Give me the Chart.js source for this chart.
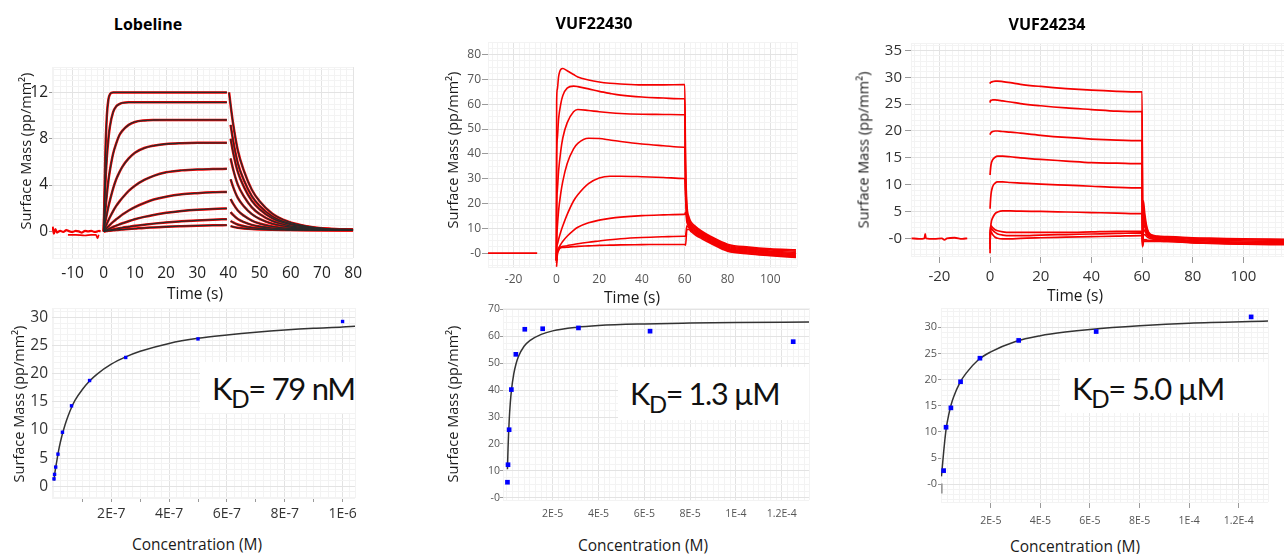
<!DOCTYPE html>
<html>
<head>
<meta charset="utf-8">
<script src="https://cdn.jsdelivr.net/npm/chart.js@4.4.1/dist/chart.umd.min.js"></script>
<style>
  body { margin: 0; background: #fff; font-family: "Open Sans", sans-serif; }
  #page { position: relative; width: 1284px; height: 554px; overflow: hidden; background: #fff; }
  canvas { position: absolute; }
  .lbl { position: absolute; white-space: nowrap; transform: translate(-50%, -50%); color: #1a1a1a; }
  .ttl { font-weight: 700; font-size: 16px; color: #000; }
  .ytl { transform: translate(-50%, -50%) rotate(-90deg); font-size: 14.5px; }
  .xtl { font-size: 15.5px; }
  .kdbox { position: absolute; background: #fff; }
  .kdt { position: absolute; white-space: nowrap; line-height: 1; color: #111; font-family: Lato, sans-serif; letter-spacing: -1.3px; }
  .kdt span { font-size: 0.78em; vertical-align: -8px; }
</style>
</head>
<body>
<div id="page">
  <canvas id="c1"></canvas>
  <canvas id="c2"></canvas>
  <canvas id="c3"></canvas>
  <canvas id="c4"></canvas>
  <canvas id="c5"></canvas>
  <canvas id="c6"></canvas>

  <div class="lbl ttl" style="left:148px; top:24px;">Lobeline</div>
  <div class="lbl ttl" style="left:594px; top:23px;">VUF22430</div>
  <div class="lbl ttl" style="left:1047px; top:24px;">VUF24234</div>

  <div class="lbl ytl" style="left:25px; top:151px;">Surface Mass (pp/mm²)</div>
  <div class="lbl ytl" style="left:452px; top:150px;">Surface Mass (pp/mm²)</div>
  <div class="lbl ytl" style="left:863px; top:150px;">Surface Mass (pp/mm²)</div>
  <div class="lbl ytl" style="left:18px; top:404px;">Surface Mass (pp/mm²)</div>
  <div class="lbl ytl" style="left:452px; top:404px;">Surface Mass (pp/mm²)</div>

  <div class="lbl xtl" style="left:195px; top:293px;">Time (s)</div>
  <div class="lbl xtl" style="left:632px; top:297px;">Time (s)</div>
  <div class="lbl xtl" style="left:1075px; top:295px;">Time (s)</div>
  <div class="lbl xtl" style="left:197px; top:544px;">Concentration (M)</div>
  <div class="lbl xtl" style="left:643px; top:545px;">Concentration (M)</div>
  <div class="lbl xtl" style="left:1075px; top:546px;">Concentration (M)</div>

  <div class="kdbox" style="left:200px; top:362px; width:155px; height:51px;"></div>
  <div class="kdt" style="left:212px; top:373px; font-size:31px;">K<span>D</span>= 79 nM</div>
  <div class="kdbox" style="left:618px; top:367px; width:191px; height:53px;"></div>
  <div class="kdt" style="left:630px; top:378px; font-size:30.5px;">K<span>D</span>= 1.3 µM</div>
  <div class="kdbox" style="left:1060px; top:362px; width:208px; height:51px;"></div>
  <div class="kdt" style="left:1072px; top:373px; font-size:31px;">K<span>D</span>= 5.0 µM</div>
</div>

<script>
// ---------- Lobeline sensorgram (time s, surface mass pp/mm2) ----------
const lobBaseT = [-16.4, -16, -15.5, -15, -14, -13, -12, -11, -10, -9, -8, -7, -6, -5, -4, -3, -2, -1.5, -1];
const lobBaseV = [0.4, -0.2, 0.2, -0.1, 0.05, -0.05, 0.1, 0, -0.05, 0.05, 0, -0.1, 0.05, 0, 0.05, -0.05, 0, 0.05, 0];
const lobBase2T = [-11.5, -9, -6, -4, -2.5, -2, -1.6];
const lobBase2V = [-0.3, -0.3, -0.35, -0.3, -0.3, -0.6, -0.3];
const lobAssocT = [0, 0.5, 1, 1.5, 2, 3, 4, 5, 6, 8, 10, 13, 16, 20, 25, 30, 35, 39.5];
const lobAssoc = [
  [0, 6.5, 10.0, 11.4, 11.85, 12.0, 12.0, 12.0, 12.0, 12.0, 12.0, 12.0, 12.0, 12.0, 12.0, 12.0, 12.0, 12.0],
  [0, 3.9, 6.4, 8.0, 9.1, 10.3, 10.8, 11.0, 11.1, 11.15, 11.15, 11.15, 11.15, 11.15, 11.15, 11.15, 11.15, 11.15],
  [0, 1.75, 3.2, 4.4, 5.3, 6.7, 7.6, 8.3, 8.7, 9.2, 9.45, 9.58, 9.62, 9.63, 9.63, 9.63, 9.63, 9.63],
  [0, 0.8, 1.5, 2.15, 2.7, 3.7, 4.5, 5.1, 5.6, 6.3, 6.8, 7.2, 7.4, 7.55, 7.62, 7.65, 7.65, 7.65],
  [0, 0.34, 0.66, 0.96, 1.24, 1.75, 2.2, 2.57, 2.9, 3.5, 3.95, 4.45, 4.8, 5.1, 5.27, 5.35, 5.38, 5.4],
  [0, 0.15, 0.3, 0.43, 0.57, 0.82, 1.05, 1.25, 1.45, 1.8, 2.1, 2.45, 2.75, 3.0, 3.2, 3.3, 3.37, 3.4],
  [0, 0.07, 0.14, 0.2, 0.26, 0.38, 0.5, 0.6, 0.7, 0.88, 1.05, 1.25, 1.42, 1.6, 1.76, 1.87, 1.94, 1.98],
  [0, 0.03, 0.06, 0.09, 0.12, 0.17, 0.22, 0.27, 0.32, 0.4, 0.48, 0.58, 0.67, 0.77, 0.87, 0.95, 1.01, 1.05],
  [0, 0.02, 0.03, 0.05, 0.06, 0.09, 0.11, 0.14, 0.16, 0.2, 0.24, 0.3, 0.34, 0.4, 0.45, 0.49, 0.52, 0.54]
];
const lobDissT = [40.2, 40.7, 41.5, 43, 45, 47.5, 50, 54, 59, 65, 72, 80];
const lobDiss = [
  [12.0, 10.9, 9.3, 7.0, 5.2, 3.6, 2.6, 1.55, 0.86, 0.45, 0.22, 0.15],
  [null, 9.2, 7.85, 5.9, 4.39, 3.04, 2.2, 1.31, 0.73, 0.4, 0.22, 0.16],
  [null, 8.0, 6.82, 5.14, 3.82, 2.64, 1.91, 1.14, 0.65, 0.36, 0.2, 0.15],
  [null, 6.3, 5.37, 4.04, 3.0, 2.08, 1.5, 0.9, 0.52, 0.3, 0.18, 0.14],
  [null, 4.5, 3.84, 2.89, 2.15, 1.49, 1.08, 0.66, 0.4, 0.24, 0.16, 0.13],
  [null, 2.8, 2.39, 1.8, 1.34, 0.93, 0.68, 0.43, 0.27, 0.18, 0.13, 0.12],
  [null, 1.66, 1.42, 1.07, 0.8, 0.56, 0.42, 0.28, 0.19, 0.14, 0.11, 0.1],
  [null, 0.9, 0.77, 0.59, 0.45, 0.33, 0.26, 0.18, 0.14, 0.11, 0.1, 0.1],
  [null, 0.45, 0.39, 0.31, 0.25, 0.2, 0.17, 0.14, 0.12, 0.1, 0.09, 0.09]
];

// ---------- VUF22430 sensorgram ----------
const v30BaseT = [-32, -9];
const v30BaseV = [0, 0];
const v30AssocT = [0, 0.1, 0.4, 1, 2, 3, 5, 8, 10, 15, 20, 25, 30, 40, 50, 59.6];
const v30Assoc = [
  [-3, 61, 66, 71, 74, 74.4, 73.5, 72, 71, 69.8, 69, 68.5, 68.2, 67.8, 67.8, 67.9],
  [-3, 38.4, 46, 54, 60, 63.5, 66.5, 67.3, 67.1, 66.2, 65.2, 64.4, 63.7, 62.9, 62.5, 62.2],
  [-3, 18.5, 25, 33, 41, 46.5, 52.5, 57, 57.9, 57.5, 57, 56.6, 56.3, 56, 55.9, 55.8],
  [-3, 5, 10, 17, 24, 29, 36, 42, 44.2, 46.3, 46.2, 45.6, 45, 44, 43.3, 42.7],
  [-3, 2, 3.5, 5.5, 8.5, 11, 15.5, 21, 23.5, 28, 30.3, 31, 31, 30.8, 30.5, 30.1],
  [-3, 0, 1, 2, 3.5, 4.8, 6.8, 9.2, 10.4, 12.2, 13.3, 14, 14.5, 15.1, 15.4, 15.6],
  [-4, -2, 0, 1.5, 2.5, 2.7, 3.0, 3.5, 3.8, 4.4, 4.9, 5.4, 5.8, 6.3, 6.6, 6.8],
  [-5.5, -5, -1, 1, 2.2, 2.3, 2.4, 2.6, 2.7, 2.9, 3.1, 3.2, 3.3, 3.4, 3.5, 3.5]
];
const v30DissT = [60, 60.4, 61, 62, 63, 65, 68, 72, 80, 90, 100, 112];
const v30Diss = [
  [67.9, 37, 20, 14.5, 12.5, 10.8, 8.8, 6.8, 3.6, 2.4, 1.7, 1.3],
  [62.2, 32, 18, 13.5, 11.8, 10.3, 8.4, 6.4, 3.2, 2.0, 1.3, 0.8],
  [55.8, 27, 16, 12.8, 11.2, 9.8, 8.0, 6.0, 2.8, 1.6, 0.8, 0.3],
  [42.7, 26, 15, 12, 10.6, 9.3, 7.6, 5.6, 2.4, 1.2, 0.4, -0.2],
  [30.1, 22, 14, 11.4, 10.1, 8.8, 7.2, 5.2, 2.0, 0.8, 0, -0.6],
  [15.6, 16.5, 12.5, 10.8, 9.6, 8.3, 6.8, 4.8, 1.6, 0.4, -0.4, -1.1],
  [6.8, 7, 11, 10.2, 9.1, 7.8, 6.3, 4.4, 1.2, 0, -0.7, -1.5],
  [3.5, 3.2, 9.5, 9.5, 8.6, 7.3, 5.8, 4.0, 0.8, -0.3, -1.0, -1.8]
];

// ---------- VUF24234 sensorgram ----------
const v34BaseT = [-31, -28, -25.9, -25.6, -25.3, -22, -19, -18, -17, -14, -11, -9];
const v34BaseV = [0, -0.1, 0, 0.8, 0, -0.1, 0, -0.3, 0, 0.1, -0.1, 0];
const v34AssocT = [0, 0.1, 0.4, 1, 2, 3, 5, 8, 12, 20, 30, 40, 50, 59.7];
const v34Assoc = [
  [28.8, 29.0, 29.1, 29.2, 29.3, 29.3, 29.2, 29.0, 28.7, 28.3, 27.9, 27.6, 27.4, 27.3],
  [25.3, 25.6, 25.7, 25.8, 25.8, 25.75, 25.6, 25.4, 25.1, 24.7, 24.3, 24.0, 23.7, 23.6],
  [19.3, 19.5, 19.7, 19.9, 20.0, 20.0, 19.9, 19.8, 19.6, 19.2, 18.8, 18.5, 18.3, 18.2],
  [11.8, 12.5, 13.8, 14.6, 15.1, 15.3, 15.3, 15.2, 15.0, 14.7, 14.4, 14.1, 14.0, 13.9],
  [5.5, 6.5, 8.3, 9.6, 10.3, 10.5, 10.5, 10.4, 10.3, 10.1, 9.9, 9.7, 9.5, 9.4],
  [0.5, 1.2, 2.8, 3.8, 4.6, 4.9, 5.1, 5.1, 5.05, 5.0, 4.9, 4.8, 4.7, 4.6],
  [-2.8, 1.5, 2.3, 2.0, 1.6, 1.4, 1.2, 1.1, 1.1, 1.1, 1.1, 1.2, 1.3, 1.3],
  [-2.0, 1.0, 1.8, 1.5, 1.1, 0.8, 0.6, 0.5, 0.5, 0.6, 0.7, 0.8, 0.9, 1.0],
  [-1.0, 0.5, 1.2, 0.7, 0.2, 0.0, -0.1, -0.1, 0.0, 0.1, 0.2, 0.3, 0.4, 0.5]
];
const v34DissT = [60, 60.2, 60.5, 61, 61.7, 62.5, 64, 66, 70, 80, 90, 100, 116];
const v34Diss = [
  [27.3, -1.0, 7.0, 4.8, 2.5, 1.2, 0.6, 0.4, 0.3, 0.1, 0, -0.1, -0.2],
  [23.6, -1.2, 5.5, 3.8, 2.0, 1.0, 0.5, 0.3, 0.2, 0, -0.2, -0.3, -0.4],
  [18.2, -1.3, 4.0, 3.0, 1.6, 0.8, 0.4, 0.2, 0.1, -0.2, -0.4, -0.5, -0.6],
  [13.9, -1.4, 2.8, 2.2, 1.2, 0.6, 0.2, 0.1, 0, -0.4, -0.6, -0.7, -0.8],
  [9.4, -1.5, 1.6, 1.4, 0.8, 0.4, 0.1, 0, -0.2, -0.6, -0.8, -0.9, -1.0],
  [4.6, -1.6, 0.6, 0.7, 0.4, 0.1, -0.1, -0.2, -0.4, -0.8, -1.0, -1.1, -1.2],
  [1.3, -0.8, -0.3, -0.3, -0.3, -0.4, -0.4, -0.4, -0.5, -0.7, -0.9, -1.0, -1.1],
  [1.0, -0.9, -0.5, -0.5, -0.5, -0.5, -0.5, -0.5, -0.6, -0.8, -0.9, -1.0, -1.1],
  [0.5, -1.0, -0.7, -0.6, -0.6, -0.6, -0.6, -0.6, -0.6, -0.8, -0.9, -0.9, -1.0]
];

// ---------- binding curves (concentration M, surface mass) ----------
const lobConc = [1e-6, 5e-7, 2.5e-7, 1.25e-7, 6.25e-8, 3.125e-8, 1.5625e-8, 7.8125e-9, 3.90625e-9, 1.953125e-9];
const lobResp = [29.3, 26.2, 22.9, 18.8, 14.3, 9.6, 5.7, 3.4, 2.1, 1.3];
const lobFitX = [2e-9, 5e-9, 1e-8, 2e-8, 3e-8, 4e-8, 5e-8, 6.25e-8, 7.5e-8, 1e-7, 1.25e-7, 1.5e-7, 2e-7, 2.5e-7, 3e-7, 4e-7, 5e-7, 6e-7, 7e-7, 8e-7, 9e-7, 1e-6, 1.043e-6];
const lobFitY = [1.0, 2.4, 4.0, 6.9, 9.1, 10.9, 12.4, 14.0, 15.3, 17.2, 18.7, 19.9, 21.7, 23.0, 24.0, 25.4, 26.3, 26.9, 27.4, 27.8, 28.1, 28.3, 28.45];

const v30Conc = [1.25e-4, 6.25e-5, 3.125e-5, 1.5625e-5, 7.8125e-6, 3.90625e-6, 1.953125e-6, 9.765625e-7, 4.8828125e-7, 2.44140625e-7];
const v30Resp = [58.0, 61.9, 63.1, 62.8, 62.6, 53.3, 40.2, 25.3, 12.3, 5.8];
const v30FitX = [2.5e-7, 5e-7, 1e-6, 1.5e-6, 2e-6, 3e-6, 4e-6, 5e-6, 7.5e-6, 1e-5, 1.5e-5, 2e-5, 3e-5, 4e-5, 6e-5, 8e-5, 1e-4, 1.319e-4];
const v30FitY = [10.6, 18.3, 28.7, 35.4, 40, 46, 49.8, 52.4, 56.3, 58.4, 60.7, 62, 63.3, 64, 64.6, 64.9, 65.1, 65.3];

const v34Conc = [1.25e-4, 6.25e-5, 3.125e-5, 1.5625e-5, 7.8125e-6, 3.90625e-6, 1.953125e-6, 9.765625e-7];
const v34Resp = [32.0, 29.2, 27.5, 24.1, 19.6, 14.6, 10.9, 2.6];
const v34FitX = [1e-7, 5e-7, 1e-6, 1.5e-6, 2e-6, 3e-6, 4e-6, 5e-6, 7.5e-6, 1e-5, 1.5e-5, 2e-5, 3e-5, 4e-5, 5e-5, 6e-5, 8e-5, 1e-4, 1.318e-4];
const v34FitY = [1.5, 3.6, 6.2, 8.6, 10.6, 13.2, 15.2, 16.7, 19.4, 21.2, 23.8, 25.3, 27.3, 28.4, 29.1, 29.6, 30.3, 30.8, 31.2];
const v34Blank = [{ x: 1e-7, y: -0.8 }];

// ---------- tick labels ----------
const lobTimeTicks = [-10, 0, 10, 20, 30, 40, 50, 60, 70, 80];
const lobMassTicks = [0, 4, 8, 12];
const v30TimeTicks = [-20, 0, 20, 40, 60, 80, 100];
const v30MassTicks = [0, 10, 20, 30, 40, 50, 60, 70, 80];
const v34TimeTicks = [-20, 0, 20, 40, 60, 80, 100];
const v34MassTicks = [0, 5, 10, 15, 20, 25, 30, 35];
const lobConcTicks = [2e-7, 4e-7, 6e-7, 8e-7, 1e-6];
const lobConcLabels = ['2E-7', '4E-7', '6E-7', '8E-7', '1E-6'];
const lobConcMarks = [1e-7, 3e-7, 5e-7, 7e-7, 9e-7];
const lobRespTicks = [0, 5, 10, 15, 20, 25, 30];
const uMConcTicks = [2e-5, 4e-5, 6e-5, 8e-5, 1e-4, 1.2e-4];
const uMConcLabels = ['2E-5', '4E-5', '6E-5', '8E-5', '1E-4', '1.2E-4'];
const v30RespTicks = [0, 10, 20, 30, 40, 50, 60, 70];
const v34RespTicks = [0, 5, 10, 15, 20, 25, 30];

const FONT = "'Open Sans', sans-serif";
const RED = 'rgb(245,0,0)';

function pts(xs, ys) {
    const out = [];
    xs.forEach((x, i) => { if (ys[i] !== null) out.push({ x: x, y: ys[i] }); });
    return out;
}

function line(xs, ys, color, width, order) {
    return {
        data: pts(xs, ys), borderColor: color, borderWidth: width, pointRadius: 0,
        cubicInterpolationMode: 'monotone', fill: false, order: order
    };
}

function squares(xs, ys, r) {
    return {
        data: pts(xs, ys), showLine: false, pointStyle: 'rect', pointRadius: r,
        backgroundColor: '#0000ff', borderColor: '#0000ff', borderWidth: 0, order: 0
    };
}

// grid positions: every step between min and max plus the labelled values
function gridList(min, max, step, extra) {
    const vals = [min, max].concat(extra);
    for (let i = Math.ceil(min / step); i <= Math.floor(max / step); i++) vals.push(i * step);
    vals.sort((a, b) => a - b);
    const out = [];
    vals.forEach(v => {
        if (!out.length || Math.abs(v - out[out.length - 1]) > step * 1e-3) out.push(v);
    });
    return out;
}

function axis(a, size, vertical) {
    const marks = a.marks || [];
    const list = gridList(a.min, a.max, a.step, a.ticks.concat(marks));
    const tol = a.step * 0.01;
    const idx = v => a.ticks.findIndex(m => Math.abs(m - v) < tol);
    const isMark = v => idx(v) >= 0 || marks.some(m => Math.abs(m - v) < tol);
    return {
        type: 'linear', min: a.min, max: a.max,
        afterBuildTicks: s => { s.ticks = list.map(v => ({ value: v })); },
        afterFit: s => { if (vertical) s.width = size; else s.height = size; },
        ticks: {
            autoSkip: false, maxRotation: 0, padding: a.pad, color: a.color,
            font: { family: FONT, size: a.font },
            callback: v => {
                const i = idx(v);
                if (i < 0) return '';
                return a.labels ? a.labels[i] : (v === 0 && a.minusZero ? '-0' : String(a.ticks[i]));
            }
        },
        grid: {
            color: c => (c.tick && idx(c.tick.value) >= 0) ? '#e3e3e3' : '#f3f3f3',
            lineWidth: 1,
            drawTicks: a.tickLen > 0,
            tickLength: a.tickLen,
            tickColor: c => (c.tick && isMark(c.tick.value)) ? '#9a9a9a' : 'rgba(0,0,0,0)'
        },
        border: { display: false }
    };
}

// box = canvas [left, top, right, bottom], plot = [left, top, right, bottom], page pixels
function panel(id, box, plot, xa, ya, datasets) {
    const cv = document.getElementById(id);
    const w = box[2] - box[0], h = box[3] - box[1];
    cv.width = w; cv.height = h;
    cv.style.left = box[0] + 'px'; cv.style.top = box[1] + 'px';
    cv.style.width = w + 'px'; cv.style.height = h + 'px';
    new Chart(cv, {
        type: 'line',
        data: { datasets: datasets },
        options: {
            responsive: false, animation: false, events: [],
            layout: { padding: { top: plot[1] - box[1], right: box[2] - plot[2], left: 0, bottom: 0 } },
            plugins: { legend: { display: false }, tooltip: { enabled: false } },
            scales: {
                x: axis(xa, box[3] - plot[3], false),
                y: axis(ya, plot[0] - box[0], true)
            }
        }
    });
}

// --- Lobeline sensorgram ---
const ds1 = [line(lobBaseT, lobBaseV, RED, 2.2, 1), line(lobBase2T, lobBase2V, RED, 1.6, 1)];
lobAssoc.forEach((vals, i) => {
    ds1.push(line(lobAssocT, vals, RED, 2.5, 1));
    ds1.push(line(lobDissT, lobDiss[i], RED, 2.5, 1));
    ds1.push(line(lobAssocT, vals, '#2a2a2a', 1.3, 0));
    ds1.push(line(lobDissT, lobDiss[i], '#2a2a2a', 1.3, 0));
});
panel('c1', [10, 51, 368, 284], [52, 67, 358, 258],
    { min: -16.6, max: 80, step: 2, ticks: lobTimeTicks, font: 15.5, color: '#222', pad: 6, tickLen: 0 },
    { min: -2.3, max: 14.2, step: 0.5, ticks: lobMassTicks, font: 15.5, color: '#222', pad: 1, tickLen: 3 },
    ds1);

// --- VUF22430 sensorgram ---
const ds2 = [line(v30BaseT, v30BaseV, RED, 1.8, 0)];
v30Assoc.forEach((vals, i) => {
    ds2.push(line(v30AssocT.concat(v30DissT), vals.concat(v30Diss[i]), RED, 1.6, 0));
});
panel('c2', [455, 26, 805, 290], [488, 42, 797, 267],
    { min: -32, max: 112.5, step: 2.5, ticks: v30TimeTicks, font: 12, color: '#555', pad: 5, tickLen: 0 },
    { min: -5.6, max: 85.1, step: 2.5, ticks: v30MassTicks, font: 12, color: '#555', pad: 1, tickLen: 6, minusZero: true },
    ds2);

// --- VUF24234 sensorgram ---
const ds3 = [line(v34BaseT, v34BaseV, RED, 1.8, 0)];
v34Assoc.forEach((vals, i) => {
    ds3.push(line(v34AssocT.concat(v34DissT), vals.concat(v34Diss[i]), RED, 1.7, 0));
});
panel('c3', [870, 27, 1298, 290], [911, 43, 1284, 256],
    { min: -31.2, max: 116, step: 2.5, ticks: v34TimeTicks, font: 15, color: '#333', pad: 5, tickLen: 7 },
    { min: -3.3, max: 36.4, step: 1, ticks: v34MassTicks, font: 15, color: '#333', pad: 3, tickLen: 6, minusZero: true },
    ds3);

// --- Lobeline binding ---
panel('c4', [10, 292, 365, 530], [52, 308, 355, 498],
    { min: -0.005e-6, max: 1.043e-6, step: 0.25e-7, ticks: lobConcTicks, labels: lobConcLabels, marks: lobConcMarks, font: 14, color: '#333', pad: 4, tickLen: 4 },
    { min: -2.1, max: 31.7, step: 1, ticks: lobRespTicks, font: 15.5, color: '#333', pad: 4, tickLen: 0 },
    [squares(lobConc, lobResp, 2.4), line(lobFitX, lobFitY, '#333', 1.5, 1)]);

// --- VUF22430 binding ---
panel('c5', [465, 292, 818, 530], [503, 308, 809, 500],
    { min: -0.17e-5, max: 13.19e-5, step: 0.25e-5, ticks: uMConcTicks, labels: uMConcLabels, font: 10.5, color: '#555', pad: 8, tickLen: 0 },
    { min: -0.8, max: 70.5, step: 2.5, ticks: v30RespTicks, font: 10.5, color: '#555', pad: 0, tickLen: 3, minusZero: true },
    [squares(v30Conc, v30Resp, 3.3), line(v30FitX, v30FitY, '#333', 1.5, 1)]);

// --- VUF24234 binding ---
const ds6 = [squares(v34Conc, v34Resp, 3.3), line(v34FitX, v34FitY, '#333', 1.5, 1)];
ds6.push({ data: v34Blank, showLine: false, pointStyle: 'line', rotation: 90, pointRadius: 5,
           borderColor: '#9a9a9a', borderWidth: 2.5, order: 2 });
panel('c6', [905, 292, 1278, 535], [941, 308, 1268, 502],
    { min: -0.008e-5, max: 13.18e-5, step: 0.25e-5, ticks: uMConcTicks, labels: uMConcLabels, font: 10.5, color: '#555', pad: 7, tickLen: 6 },
    { min: -3.4, max: 33.7, step: 1, ticks: v34RespTicks, font: 11, color: '#555', pad: 1, tickLen: 3, minusZero: true },
    ds6);
</script>
</body>
</html>
